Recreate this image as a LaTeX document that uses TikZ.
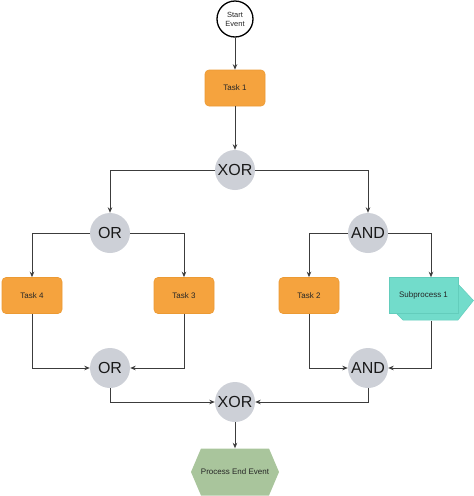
\documentclass[tikz,border=0pt]{standalone}
\usepackage{fontspec}
\setmainfont{Liberation Sans}
\usetikzlibrary{arrows.meta}
\definecolor{taskor}{HTML}{F5A33E}
\definecolor{taskbd}{HTML}{EC9A33}
\definecolor{gatec}{HTML}{CDD0D7}
\definecolor{subc}{HTML}{72DCCB}
\definecolor{subbd}{HTML}{63CDBC}
\definecolor{endc}{HTML}{A9C59C}
\definecolor{linec}{HTML}{3C3C3C}
\tikzset{
  task/.style={rectangle, rounded corners=4pt, fill=taskor, draw=taskbd, line width=0.6pt,
    minimum width=60pt, minimum height=36pt, inner sep=0pt, font=\fontsize{8}{9}\selectfont, text=black!85},
  gate/.style={circle, fill=gatec, minimum size=40pt, inner sep=0pt, font=\fontsize{16}{18}\selectfont, text=black!90},
  startev/.style={circle, draw=black, fill=white, line width=1.3pt, minimum size=36pt, inner sep=0pt,
    align=center, font=\fontsize{7.5}{9}\selectfont, text=black!85},
  subbox/.style={rectangle, fill=subc, draw=subbd, line width=0.5pt, minimum width=69pt, minimum height=36pt, inner sep=0pt,
    font=\fontsize{8}{9}\selectfont, text=black!85},
  subback/.style={fill=subc, draw=subbd, line width=0.5pt},
  endev/.style={minimum width=88pt, minimum height=47pt, inner sep=0pt, font=\fontsize{8}{9}\selectfont, text=black!85},
  arr/.style={draw=linec, line width=0.8pt, -{Stealth[length=5.5pt,width=4.5pt]}},
}
\begin{document}
\begin{tikzpicture}[x=1pt,y=-1pt]
\useasboundingbox (0,0) rectangle (474,496);
% shapes
\node[startev] (start) at (235,19) {Start\\Event};
\node[task] (t1) at (235,88) {Task 1};
\node[gate] (x1) at (235,170) {XOR};
\node[gate] (o1) at (110,233) {OR};
\node[gate] (a1) at (368,233) {AND};
\node[task] (t4) at (32,295.5) {Task 4};
\node[task] (t3) at (184,295.5) {Task 3};
\node[task] (t2) at (309,295.5) {Task 2};
\path[subback] (396,284) -- (458,284) -- (473.5,300.5) -- (458,320) -- (403,320) -- (396,313) -- cycle;
\node[subbox] (sp) at (423.5,295.5) {Subprocess 1};
\node[gate] (o2) at (110,368) {OR};
\node[gate] (a2) at (368,368) {AND};
\node[gate] (x2) at (235,402) {XOR};
\fill[endc] (191,472) -- (201,448.5) -- (269,448.5) -- (279,472) -- (269,495.5) -- (201,495.5) -- cycle;
\node[endev] (end) at (235,472) {Process End Event};
% connectors
\draw[arr] (start) -- (t1);
\draw[arr] (t1) -- (x1);
\draw[arr] (x1.west) -| (o1.north);
\draw[arr] (x1.east) -| (a1.north);
\draw[arr] (o1.west) -| (t4.north);
\draw[arr] (o1.east) -| (t3.north);
\draw[arr] (a1.west) -| (t2.north);
\draw[arr] (a1.east) -| ([xshift=7.5pt]sp.north);
\draw[arr] (t4.south) |- (o2.west);
\draw[arr] (t3.south) |- (o2.east);
\draw[arr] (t2.south) |- (a2.west);
\draw[arr] ([xshift=7.5pt,yshift=-7pt]sp.south) |- (a2.east);
\draw[arr] (o2.south) |- (x2.west);
\draw[arr] (a2.south) |- (x2.east);
\draw[arr] (x2) -- (end.north);
\end{tikzpicture}
\end{document}
